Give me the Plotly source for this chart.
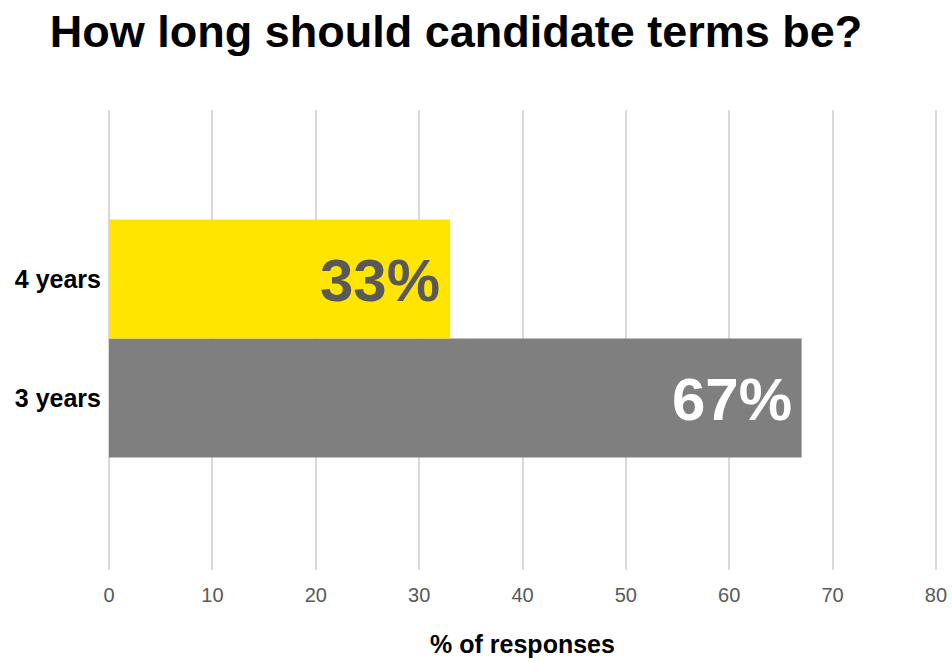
import plotly.graph_objects as go

# Survey results
categories = ["3 years", "4 years"]
shares = [67, 33]
bar_colors = ["#7f7f7f", "#ffe500"]
label_colors = ["#ffffff", "#595959"]
x_ticks = [0, 10, 20, 30, 40, 50, 60, 70, 80]

FONT = "Liberation Sans, Arial, sans-serif"

fig = go.Figure()
fig.add_trace(go.Bar(
    y=categories,
    x=shares,
    orientation="h",
    width=1.0,
    marker=dict(color=bar_colors, line=dict(width=0)),
    hoverinfo="skip",
))

# Percentage labels inside the end of each bar
for cat, val, col in zip(categories, shares, label_colors):
    fig.add_annotation(
        x=val, y=cat, xref="x", yref="y",
        text=f"<b>{val}%</b>", showarrow=False,
        xanchor="right", yanchor="middle", xshift=-8, yshift=-1,
        font=dict(family=FONT, size=60, color=col),
    )

fig.update_layout(
    width=952, height=663,
    margin=dict(l=108, r=15, t=110, b=93, autoexpand=False),
    paper_bgcolor="white", plot_bgcolor="white",
    showlegend=False,
    title=dict(
        text="<b>How long should candidate terms be?</b>",
        x=456 / 952, xanchor="center", xref="container",
        y=1 - 31 / 663, yanchor="middle", yref="container",
        font=dict(family=FONT, size=45, color="#000000"),
    ),
    xaxis=dict(
        range=[-0.1, 80.1], tickvals=x_ticks, showgrid=True,
        gridcolor="#d9d9d9", gridwidth=1.5, zeroline=False, showline=False,
        tickfont=dict(family=FONT, size=20, color="#595959"),
        ticks="", ticklabelstandoff=11, automargin=False,
        title=dict(text="<b>% of responses</b>", standoff=30,
                   font=dict(family=FONT, size=25, color="#000000")),
        fixedrange=True,
    ),
    yaxis=dict(
        type="category", categoryorder="array", categoryarray=categories,
        range=[-1.445, 2.42], showgrid=False, zeroline=False, showline=False,
        ticks="", ticklabelstandoff=6, automargin=False,
        tickfont=dict(family=FONT, size=25, color="#000000"),
        tickvals=categories, ticktext=[f"<b>{c}</b>" for c in categories],
        fixedrange=True,
    ),
)

fig.write_html("out.html")
